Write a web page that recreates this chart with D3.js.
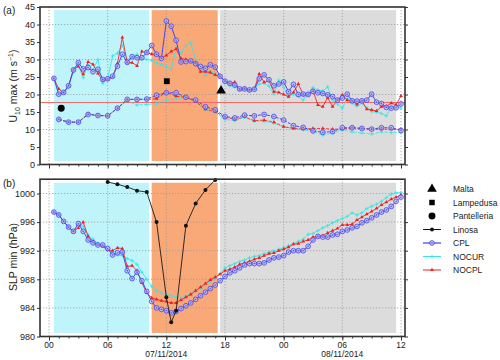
<!DOCTYPE html>
<html><head><meta charset="utf-8">
<script src="https://cdn.jsdelivr.net/npm/d3@7"></script>
<style>body{margin:0;background:#fff}svg{display:block;font-family:"Liberation Sans",Arial,Helvetica,sans-serif}</style>
</head><body><svg id="c" width="500" height="360"></svg>
<script>
// ---- data ----
const hoursHalf = d3.range(0.5, 36.01, 0.5);   // 00 UTC 07/11 + h
const hoursHourly = d3.range(1, 36.01, 1);
const xTickHours = [0, 6, 12, 18, 24, 30, 36];
const xTickLabels = ["00", "06", "12", "18", "00", "06", "12"];
const dateLabels = [{h: 12, t: "07/11/2014"}, {h: 30, t: "08/11/2014"}];
const periods = [[0.5, 10.25, "#bff4fb"], [10.5, 17.25, "#f9a877"], [17.5, 35.5, "#dcdcdc"]];

const cplU = [24.6,20.1,20.6,22.5,27.0,29.1,27.3,27.7,26.5,27.2,24.3,24.5,25.2,28.1,31.5,29.2,30.8,30.5,30.5,32.0,34.0,31.5,30.3,41.0,39.5,35.5,29.3,29.4,29.6,28.8,28.0,27.5,28.5,27.8,25.2,23.8,23.2,22.7,21.6,21.6,21.3,21.5,24.5,25.6,24.2,22.5,23.0,23.6,20.8,22.9,20.0,20.1,20.0,20.9,20.5,20.3,19.9,19.4,18.4,19.0,20.1,18.2,18.1,18.2,18.4,20.1,17.8,17.4,16.3,16.1,16.2,17.3];
const nocplU = [24.6,21.6,20.5,22.5,27.2,28.0,25.8,29.3,28.6,26.0,24.0,24.3,25.0,28.9,36.3,29.1,29.1,28.2,32.3,32.0,31.5,31.5,30.5,31.2,32.3,33.0,30.3,30.0,29.4,29.0,26.5,26.5,26.3,25.6,25.1,23.9,23.2,23.5,21.3,21.8,21.2,21.6,25.9,23.5,23.9,20.8,20.6,20.0,19.4,20.6,23.0,19.9,19.9,21.1,17.0,16.5,19.1,16.5,18.4,19.9,18.4,18.1,17.2,18.2,15.8,15.6,15.3,16.5,16.7,17.5,17.1,19.6];
const nocurU = [24.6,20.2,20.7,22.0,26.5,28.5,24.8,28.5,27.0,30.0,23.2,24.5,31.0,31.8,34.0,30.0,30.5,31.5,30.2,30.0,29.8,29.0,28.5,28.0,27.2,33.4,31.8,34.0,34.8,30.0,27.5,25.5,26.5,26.0,25.5,23.4,22.5,22.2,21.5,21.3,21.0,21.5,23.0,23.2,22.4,20.1,24.1,22.0,19.4,20.1,19.5,18.4,20.5,22.0,21.3,21.0,22.2,18.4,17.3,16.1,18.8,17.5,16.7,17.5,16.2,15.1,15.0,14.6,13.9,16.5,16.7,16.1];

const cplL = [12.9,12.1,12.1,14.3,14.0,13.9,16.1,18.6,18.6,18.7,19.8,20.5,20.5,19.2,18.4,16.5,15.6,13.7,13.3,14.1,13.9,14.3,13.7,12.7,11.1,10.6,9.6,9.2,9.4,10.5,10.5,10.3,10.1,10.5,10.5,9.7];
const nocplL = [12.9,12.1,12.1,14.5,14.0,13.9,16.0,18.6,18.6,18.6,18.8,20.7,19.5,19.2,18.0,15.8,15.1,13.5,12.9,13.6,12.5,12.7,12.1,10.8,10.3,10.1,10.3,10.3,10.1,10.1,10.5,10.3,10.1,10.1,10.1,10.1];
const nocurL = [12.9,12.1,12.1,14.3,14.1,13.9,16.1,18.2,17.0,17.2,17.3,18.3,18.8,19.0,18.0,15.5,14.8,12.9,12.5,13.5,12.4,12.3,11.8,10.8,10.3,9.9,9.4,8.4,9.0,9.8,9.3,9.0,8.7,9.3,9.1,9.1];

const cplP = [997.4,997.0,996.1,995.3,994.7,995.8,994.7,993.5,993.1,992.8,992.8,992.3,991.4,991.7,991.8,989.2,988.1,989.0,987.8,986.3,984.9,984.0,983.8,983.6,983.3,983.5,983.9,984.3,984.7,985.2,985.7,986.2,986.7,987.2,987.8,988.4,988.9,989.2,989.6,990.0,990.2,990.2,990.2,990.3,990.7,991.0,991.1,991.3,991.8,992.0,992.0,992.0,992.6,993.5,994.0,993.9,993.9,994.2,994.3,994.7,994.9,995.2,995.4,995.9,996.2,996.6,997.0,997.4,997.7,998.2,998.9,999.5];
const nocplP = [997.4,997.0,996.1,995.3,994.7,995.2,996.0,994.0,993.3,992.8,992.6,992.1,992.0,992.4,992.3,989.8,989.9,989.2,987.5,986.1,985.4,985.2,985.0,984.9,984.7,984.7,985.1,985.5,985.9,986.4,986.9,987.4,987.9,988.3,988.7,989.2,989.4,989.7,990.1,990.3,990.5,990.8,991.0,991.3,991.6,991.7,992.0,992.2,992.5,992.9,993.0,993.3,993.5,993.9,994.0,994.1,994.5,994.8,995.1,995.6,995.6,995.7,996.3,996.7,997.1,997.5,997.9,998.4,998.8,999.2,999.5,999.8];
const nocurP = [997.4,997.0,996.1,995.3,994.7,995.8,995.4,994.2,993.6,993.0,992.8,992.2,991.6,991.4,991.3,990.9,990.6,990.1,989.0,988.0,987.0,986.4,986.1,985.9,985.7,985.5,985.4,985.6,986.0,986.4,986.7,987.2,987.7,988.2,988.8,989.6,989.9,990.2,990.5,990.7,991.0,991.2,991.3,991.6,991.8,992.0,992.2,992.4,992.7,993.0,993.3,993.6,994.3,994.4,994.8,995.2,995.5,995.9,996.2,996.5,996.8,997.3,997.0,997.3,997.9,998.2,998.5,998.9,999.4,999.9,1000.1,1000.1];

const linosaHours = [6,7,8,9,10,11,12,12.5,13,14,15,16,17];
const linosaP = [1001.6,1001.3,1000.9,1000.4,1000.2,996.0,985.5,982.0,983.6,995.5,998.6,1000.5,1001.9];

const obsNames = ["Malta", "Lampedusa", "Pantelleria"];
const obsHours = [17.6, 12.05, 1.25];
const obsU10 = [21.1, 23.8, 16.1];
const threshold = 18;

// ---- layout ----
const svg = d3.select("#c");
const L = 40, R = 405;
const x = d3.scaleLinear().domain([0, 36]).range([49, 401]);
const yA = d3.scaleLinear().domain([0, 45]).range([164.5, 7]);
const yB = d3.scaleLinear().domain([980, 1002]).range([336.5, 179.2]);
const colors = {cpl: "#4848e8", nocur: "#33e6e6", nocpl: "#ee2020", linosa: "#111"};

function panel(y, yTicks, gridVals, shadeLo, shadeHi) {
  const g = svg.append("g");
  const top = y.range()[1], bot = y.range()[0];
  periods.forEach(p => g.append("rect").attr("x", x(p[0])).attr("width", x(p[1]) - x(p[0]))
    .attr("y", y(shadeHi)).attr("height", y(shadeLo) - y(shadeHi)).attr("fill", p[2]));
  xTickHours.forEach(h => g.append("line").attr("x1", x(h)).attr("x2", x(h)).attr("y1", top).attr("y2", bot)
    .attr("stroke", "#999").attr("stroke-width", 0.8).attr("stroke-dasharray", "1.2,1.8"));
  gridVals.forEach(v => g.append("line").attr("x1", L).attr("x2", R).attr("y1", y(v)).attr("y2", y(v))
    .attr("stroke", "#999").attr("stroke-width", 0.8).attr("stroke-dasharray", "1.2,1.8"));
  const left = d3.axisLeft(y).tickValues(yTicks).tickSize(3).tickPadding(2).tickFormat(d3.format("d"));
  const ga = g.append("g").attr("transform", `translate(${L},0)`).call(left);
  ga.select(".domain").remove();
  ga.selectAll("text").attr("font-size", 9).attr("fill", "#222");
  ga.selectAll("line").attr("stroke", "#333");
  const right = d3.axisRight(y).tickValues(yTicks).tickSize(3).tickFormat("");
  const gr = g.append("g").attr("transform", `translate(${R},0)`).call(right);
  gr.select(".domain").remove(); gr.selectAll("line").attr("stroke", "#333");
  const bm = d3.axisBottom(x).tickValues(d3.range(0, 36.01, 1)).tickSize(2).tickFormat("");
  const gb = g.append("g").attr("transform", `translate(0,${bot})`).call(bm);
  gb.select(".domain").remove(); gb.selectAll("line").attr("stroke", "#333");
  const gb2 = g.append("g").attr("transform", `translate(0,${bot})`).call(d3.axisBottom(x).tickValues(xTickHours).tickSize(4).tickFormat(""));
  gb2.select(".domain").remove(); gb2.selectAll("line").attr("stroke", "#333");
  return g;
}

function frame(y) {
  const top = y.range()[1], bot = y.range()[0];
  svg.append("rect").attr("x", L).attr("y", top).attr("width", R - L).attr("height", bot - top)
    .attr("fill", "none").attr("stroke", "#333").attr("stroke-width", 1.6);
}

function series(g, hrs, vals, y, kind, dashed) {
  const pts = hrs.map((h, i) => [x(h), y(vals[i])]);
  g.append("path").attr("d", d3.line()(pts)).attr("fill", "none").attr("stroke", colors[kind])
    .attr("stroke-width", kind === "cpl" ? 1 : 0.85).attr("stroke-dasharray", dashed ? "3,1.5" : null);
  const m = g.append("g");
  pts.forEach(p => marker(m, kind, p[0], p[1]));
}

function marker(m, kind, px, py) {
  if (kind === "cpl") {
    m.append("circle").attr("cx", px).attr("cy", py).attr("r", 2.4).attr("fill", "#b4b4f4").attr("fill-opacity", 0.7)
      .attr("stroke", colors.cpl).attr("stroke-width", 0.8);
    m.append("circle").attr("cx", px).attr("cy", py).attr("r", 0.6).attr("fill", colors.cpl);
  } else if (kind === "nocur") {
    m.append("path").attr("d", `M${px-1.8},${py}H${px+1.8}M${px},${py-1.8}V${py+1.8}`).attr("stroke", colors.nocur).attr("stroke-width", 0.8);
  } else if (kind === "nocpl") {
    m.append("path").attr("d", d3.symbol(d3.symbolTriangle, 6)()).attr("transform", `translate(${px},${py})`).attr("fill", colors.nocpl);
  } else if (kind === "linosa") {
    m.append("circle").attr("cx", px).attr("cy", py).attr("r", 2).attr("fill", colors.linosa);
  }
}

// ---- panel (a) ----
const gA = panel(yA, d3.range(0, 45.1, 5), [10, 20, 30, 40], 1, 44.1);
gA.append("line").attr("x1", L).attr("x2", R).attr("y1", Math.round(yA(threshold)) + 0.5).attr("y2", Math.round(yA(threshold)) + 0.5)
  .attr("stroke", "#f06a6a").attr("stroke-width", 1);
series(gA, hoursHourly, nocurL, yA, "nocur", true);
series(gA, hoursHourly, nocplL, yA, "nocpl", true);
series(gA, hoursHourly, cplL, yA, "cpl", true);
series(gA, hoursHalf, nocurU, yA, "nocur", false);
series(gA, hoursHalf, nocplU, yA, "nocpl", false);
series(gA, hoursHalf, cplU, yA, "cpl", false);
const obsSym = [d3.symbolTriangle, d3.symbolSquare, d3.symbolCircle];
const obsSize = [40, 34, 38];
obsNames.forEach((n, i) => gA.append("path").attr("d", d3.symbol(obsSym[i], obsSize[i])())
  .attr("transform", `translate(${x(obsHours[i])},${yA(obsU10[i])})`).attr("fill", "#000"));
frame(yA);

// ---- panel (b) ----
const gB = panel(yB, d3.range(980, 1000.1, 4), [984, 988, 992, 996, 1000], 980.5, 1001.5);
series(gB, hoursHalf, nocurP, yB, "nocur", false);
series(gB, hoursHalf, nocplP, yB, "nocpl", false);
series(gB, hoursHalf, cplP, yB, "cpl", false);
series(gB, linosaHours, linosaP, yB, "linosa", false);
frame(yB);

xTickHours.forEach((h, i) => svg.append("text").attr("x", x(h)).attr("y", 348).attr("text-anchor", "middle")
  .attr("font-size", 8.5).attr("fill", "#222").text(xTickLabels[i]));
dateLabels.forEach(d => svg.append("text").attr("x", x(d.h)).attr("y", 356.5).attr("text-anchor", "middle")
  .attr("font-size", 8.5).attr("fill", "#222").text(d.t));

// titles
svg.append("text").attr("x", 3).attr("y", 14).attr("font-size", 10).attr("fill", "#222").text("(a)");
svg.append("text").attr("x", 3).attr("y", 187).attr("font-size", 10).attr("fill", "#222").text("(b)");
const tA = svg.append("text").attr("transform", "translate(17,86) rotate(-90)").attr("text-anchor", "middle")
  .attr("font-size", 10.5).attr("fill", "#222");
tA.append("tspan").text("U");
tA.append("tspan").attr("font-size", 7).attr("dy", 2.5).text("10");
tA.append("tspan").attr("dy", -2.5).text(" max (m s");
tA.append("tspan").attr("font-size", 7).attr("dy", -4).text("−1");
tA.append("tspan").attr("dy", 4).text(")");
svg.append("text").attr("transform", "translate(17,257) rotate(-90)").attr("text-anchor", "middle")
  .attr("font-size", 10.5).attr("fill", "#222").text("SLP min (hPa)");

// legend
const legItems = [
  {t: "Malta", k: "obs", s: d3.symbolTriangle, sz: 40},
  {t: "Lampedusa", k: "obs", s: d3.symbolSquare, sz: 30},
  {t: "Pantelleria", k: "obs", s: d3.symbolCircle, sz: 38},
  {t: "Linosa", k: "linosa"}, {t: "CPL", k: "cpl"}, {t: "NOCUR", k: "nocur"}, {t: "NOCPL", k: "nocpl"}];
const lg = svg.append("g");
legItems.forEach((d, i) => {
  const ly = 189 + i * 13.5, mx = 432;
  if (d.k === "obs") {
    lg.append("path").attr("d", d3.symbol(d.s, d.sz)()).attr("transform", `translate(${mx},${ly})`).attr("fill", "#000");
  } else {
    lg.append("line").attr("x1", 423).attr("x2", 441).attr("y1", ly).attr("y2", ly).attr("stroke", d.k === "cpl" ? "#8c8cf0" : colors[d.k])
      .attr("stroke-width", d.k === "cpl" ? 2 : 1);
    marker(lg, d.k, mx, ly);
  }
  lg.append("text").attr("x", 453).attr("y", ly + 3).attr("font-size", 8.5).attr("fill", "#222").text(d.t);
});
</script></body></html>
